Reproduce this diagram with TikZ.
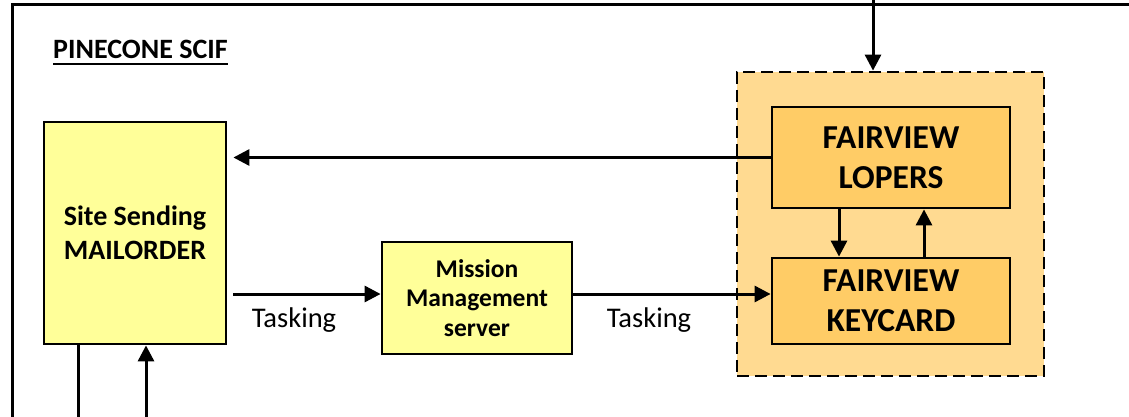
\documentclass[tikz,border=0pt]{standalone}
\usepackage{fontspec}
\setmainfont{Carlito}
\usetikzlibrary{arrows.meta,calc}
\definecolor{lightyel}{HTML}{FFFF99}
\definecolor{contorange}{HTML}{FFDA91}
\definecolor{boxorange}{HTML}{FFCC66}
\tikzset{
  frameline/.style={line width=3pt},
  arr/.style={line width=3pt,-{Triangle[length=16pt,width=16pt]}},
  plainline/.style={line width=3pt},
  yelbox/.style={draw,line width=2.8pt,fill=lightyel,align=center,inner sep=0pt},
  orgbox/.style={draw,line width=2.8pt,fill=boxorange,align=center,inner sep=0pt,font=\fontsize{33.5}{40}\selectfont\bfseries},
  contbox/.style={draw,line width=2.8pt,dash pattern=on 12pt off 6pt,fill=contorange,inner sep=0pt},
  lbl/.style={inner sep=0pt,font=\fontsize{28.5}{30}\selectfont}
}
\begin{document}
\begin{tikzpicture}[x=1pt,y=-1pt]
\useasboundingbox (0,0) rectangle (1129,417);
% outer frame
\draw[frameline] (12,420) -- (12,5) -- (1132,5);
% title
\node[inner sep=0pt,anchor=base west,font=\fontsize{28}{30}\selectfont\bfseries] (title) at (53,59) {PINECONE SCIF};
\draw[line width=2pt] ([yshift=-5pt]title.base west) -- ([yshift=-5pt]title.base east);
% boxes
\node[yelbox,minimum width=182pt,minimum height=222pt,font=\fontsize{28}{34}\selectfont\bfseries] (site) at (135,233) {Site Sending\\MAILORDER};
\node[yelbox,minimum width=190pt,minimum height=112pt,font=\fontsize{25.5}{29.5}\selectfont\bfseries] (mission) at (477,298) {Mission\\Management\\server};
\node[contbox,minimum width=307pt,minimum height=304pt] (cont) at (890.5,224) {};
\node[orgbox,minimum width=238pt,minimum height=101pt] (lopers) at (891,157.5) {FAIRVIEW\\LOPERS};
\node[orgbox,minimum width=238pt,minimum height=86pt] (keycard) at (891,301) {FAIRVIEW\\KEYCARD};
% labels
\node[lbl] (task1) at (294,320) {Tasking};
\node[lbl] (task2) at (649,320) {Tasking};
% connectors
\coordinate (topin) at (873,0);
\coordinate (b1) at (78,420);
\coordinate (b2) at (146,420);
\draw[arr] (topin) -- (topin |- cont.north);
\draw[arr] (lopers.west) -- ($(lopers.west -| site.east)+(6,0)$);
\draw[arr] ($(site.east |- mission.west)+(6,-4)$) -- ($(mission.west)+(0,-4)$);
\draw[arr] ($(mission.east)+(0,-4)$) -- ($(keycard.west)+(0,-7)$);
\draw[arr] ($(lopers.south)+(-52,0)$) -- ($(keycard.north)+(-52,0)$);
\draw[arr] ($(keycard.north)+(33,0)$) -- ($(lopers.south)+(33,0)$);
\draw[plainline] (b1 |- site.south) -- (b1);
\draw[arr] (b2) -- (b2 |- site.south);
\end{tikzpicture}
\end{document}
